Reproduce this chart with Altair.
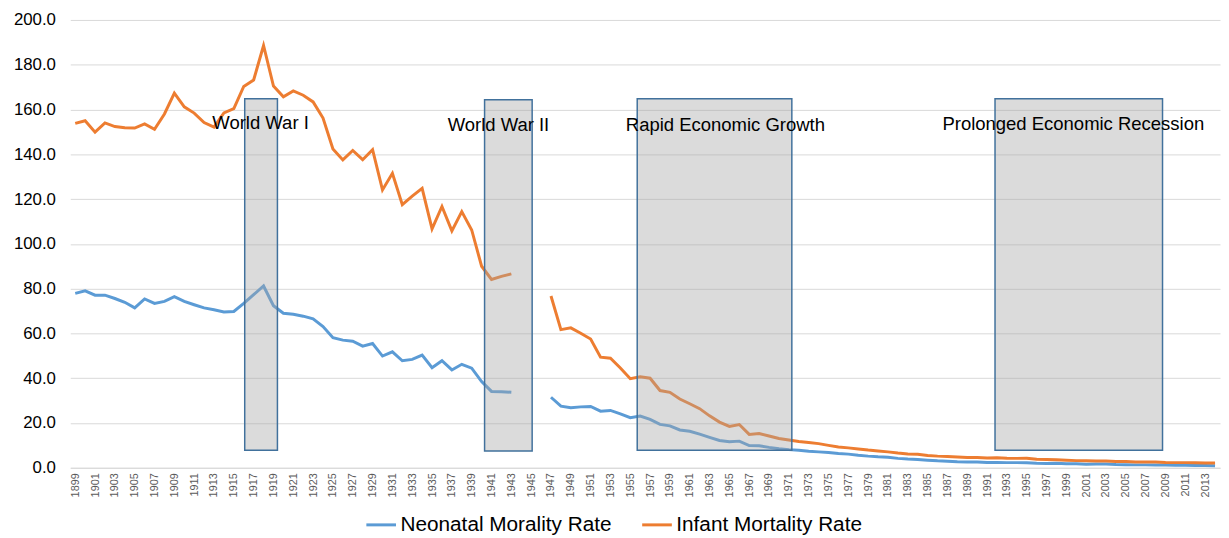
import altair as alt
import pandas as pd

# ---- data ----
years_pre = list(range(1899, 1944))
years_post = list(range(1947, 2015))

infant_pre = [153.8, 155.0, 149.9, 154.0, 152.4, 151.9, 151.7, 153.6, 151.2, 158.0,
              167.3, 161.2, 158.4, 154.2, 152.1, 158.5, 160.4, 170.3, 173.2, 188.6,
              170.5, 165.7, 168.3, 166.4, 163.4, 156.2, 142.4, 137.5, 141.7, 137.6,
              142.1, 124.1, 131.5, 117.5, 121.3, 124.8, 106.7, 116.7, 105.8, 114.4,
              106.2, 90.0, 84.1, 85.5, 86.6]
infant_post = [76.7, 61.7, 62.5, 60.1, 57.5, 49.4, 48.9, 44.6, 39.8, 40.6,
               40.0, 34.5, 33.7, 30.7, 28.6, 26.4, 23.2, 20.4, 18.5, 19.3,
               14.9, 15.3, 14.2, 13.1, 12.4, 11.7, 11.3, 10.8, 10.0, 9.3,
               8.9, 8.4, 7.9, 7.5, 7.1, 6.6, 6.2, 6.0, 5.5, 5.2,
               5.0, 4.8, 4.6, 4.6, 4.4, 4.5, 4.3, 4.2, 4.3, 3.8,
               3.7, 3.6, 3.4, 3.2, 3.1, 3.0, 3.0, 2.8, 2.8, 2.6,
               2.6, 2.6, 2.4, 2.3, 2.3, 2.2, 2.1, 2.1]

neonatal_pre = [77.9, 79.0, 77.1, 77.1, 75.6, 73.9, 71.4, 75.4, 73.4, 74.3,
                76.4, 74.3, 72.8, 71.4, 70.6, 69.6, 69.8, 73.4, 77.3, 81.2,
                72.4, 69.0, 68.6, 67.7, 66.5, 63.1, 58.1, 57.0, 56.5, 54.3,
                55.5, 49.9, 51.8, 47.8, 48.4, 50.3, 44.7, 47.8, 43.7, 46.2,
                44.5, 38.5, 34.1, 34.0, 33.7]
neonatal_post = [31.5, 27.5, 26.8, 27.2, 27.4, 25.3, 25.6, 24.1, 22.4, 23.1,
                 21.6, 19.4, 18.7, 16.9, 16.3, 15.0, 13.6, 12.2, 11.6, 11.9,
                 9.9, 9.8, 9.1, 8.5, 8.1, 7.8, 7.4, 7.1, 6.8, 6.4,
                 6.1, 5.6, 5.2, 4.9, 4.7, 4.2, 3.9, 3.7, 3.4, 3.1,
                 2.9, 2.7, 2.6, 2.6, 2.4, 2.4, 2.3, 2.3, 2.2, 2.0,
                 1.9, 2.0, 1.8, 1.8, 1.6, 1.7, 1.7, 1.5, 1.4, 1.3,
                 1.3, 1.2, 1.2, 1.1, 1.1, 1.0, 1.0, 0.9]

series_names = ["Neonatal Morality Rate", "Infant Mortality Rate"]
series_colors = ["#5B9BD5", "#ED7D31"]

period_labels = ["World War I", "World War II", "Rapid Economic Growth",
                 "Prolonged Economic Recession"]
period_start = [1916.1, 1940.3, 1955.7, 1991.8]
period_end = [1919.4, 1945.1, 1971.3, 2008.7]
period_bottom = [7.8, 7.5, 7.8, 7.8]
period_top = [164.8, 164.4, 164.8, 164.8]
label_x = [1917.7, 1941.7, 1964.6, 1999.7]
label_y = [154.0, 153.2, 153.2, 153.6]

tick_years = list(range(1899, 2014, 2))
y_ticks = list(range(0, 201, 20))

# ---- build tables ----
rows = []
for name, pre, post in [(series_names[0], neonatal_pre, neonatal_post),
                        (series_names[1], infant_pre, infant_post)]:
    for y, v in zip(years_pre, pre):
        rows.append({"year": y, "value": v, "series": name, "seg": name + "-a"})
    for y, v in zip(years_post, post):
        rows.append({"year": y, "value": v, "series": name, "seg": name + "-b"})
df = pd.DataFrame(rows)

periods = pd.DataFrame({"label": period_labels, "x1": period_start, "x2": period_end,
                        "y1": period_bottom, "y2": period_top,
                        "lx": label_x, "ly": label_y})

xscale = alt.Scale(domain=[1898.5, 2014.5], nice=False, zero=False)
yscale = alt.Scale(domain=[0, 200], nice=False)

x_axis = alt.Axis(values=tick_years, format="d", labelAngle=270,
                  labelFontSize=11, labelColor="#595959", grid=False,
                  ticks=False, domainColor="#d9d9d9", labelPadding=5,
                  labelFont="Liberation Sans", labelOverlap=False,
                  labelFlush=False, title=None)
y_axis = alt.Axis(values=y_ticks, format=".1f",
                  labelFontSize=17, labelColor="#000000", ticks=False,
                  domain=False, gridColor="#d9d9d9", labelPadding=15,
                  labelFont="Liberation Sans", title=None)

lines = alt.Chart(df).mark_line(strokeWidth=3).encode(
    x=alt.X("year:Q", scale=xscale, axis=x_axis),
    y=alt.Y("value:Q", scale=yscale, axis=y_axis),
    color=alt.Color("series:N",
                    scale=alt.Scale(domain=series_names, range=series_colors),
                    legend=alt.Legend(title=None, orient="none", direction="horizontal",
                                      legendX=298, legendY=494,
                                      labelFontSize=21, labelColor="#000000",
                                      labelFont="Liberation Sans", labelLimit=500,
                                      symbolType="stroke", symbolSize=900,
                                      symbolStrokeWidth=3, columnPadding=24,
                                      labelOffset=3)),
    detail="seg:N",
)

rects = alt.Chart(periods).mark_rect(fill="#a5a5a5", fillOpacity=0.4,
                                      stroke="#41719C", strokeWidth=1.5).encode(
    x=alt.X("x1:Q", scale=xscale, axis=x_axis), x2="x2:Q",
    y=alt.Y("y1:Q", scale=yscale, axis=y_axis), y2="y2:Q",
)

texts = alt.Chart(periods).mark_text(fontSize=18.7, font="Liberation Sans",
                                     color="#000000", align="center",
                                     baseline="middle").encode(
    x=alt.X("lx:Q", scale=xscale, axis=x_axis),
    y=alt.Y("ly:Q", scale=yscale, axis=y_axis),
    text="label:N",
)

chart = alt.layer(lines, rects, texts).properties(
    width=1163, height=453, background="white",
    padding={"top": 0, "left": 5, "right": 0, "bottom": 5},
).configure_view(stroke=None).configure_axisX(labelOverlap=False)

chart.save("out.html", embed_options={"renderer": "svg", "actions": False})
